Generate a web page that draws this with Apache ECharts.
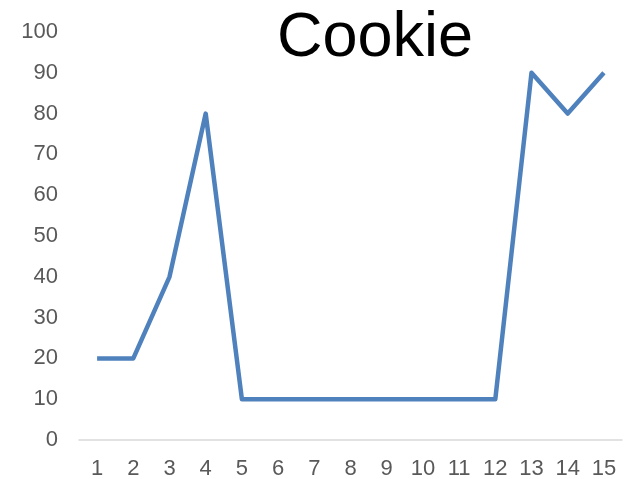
<!DOCTYPE html>
<html>
<head>
<meta charset="utf-8">
<script src="https://cdn.jsdelivr.net/npm/echarts@6/dist/echarts.min.js"></script>
<style>
  html, body { margin: 0; padding: 0; background: #fff; }
  #main { width: 624px; height: 479px; }
</style>
</head>
<body>
<div id="main"></div>
<script>
// data
var categories = ['1', '2', '3', '4', '5', '6', '7', '8', '9', '10', '11', '12', '13', '14', '15']
var cookieValues = [20, 20, 40, 80, 10, 10, 10, 10, 10, 10, 10, 10, 90, 80, 90]

var chart = echarts.init(document.getElementById('main'))
chart.setOption({
  animation: false,
  title: {
    text: 'Cookie',
    left: 370,
    top: 2,
    textAlign: 'center',
    textStyle: { fontFamily: 'Liberation Sans', fontSize: 63, fontWeight: 'normal', color: '#000' }
  },
  grid: { left: 79, right: 2, top: 32, bottom: 39, containLabel: false, outerBoundsMode: 'none' },
  xAxis: {
    type: 'category',
    data: categories,
    boundaryGap: true,
    axisLine: { lineStyle: { color: '#d9d9d9', width: 1.5 } },
    axisTick: { show: false },
    axisLabel: { color: '#595959', fontSize: 22, fontFamily: 'Liberation Sans', margin: 18 }
  },
  yAxis: {
    type: 'value',
    min: 0,
    max: 100,
    interval: 10,
    splitLine: { show: false },
    axisLine: { show: false },
    axisTick: { show: false },
    axisLabel: { color: '#595959', fontSize: 22, fontFamily: 'Liberation Sans', margin: 21 }
  },
  series: [{
    name: 'Cookie',
    type: 'line',
    data: cookieValues,
    symbol: 'none',
    lineStyle: { color: '#4f81bd', width: 4.5, join: 'round' }
  }]
})
</script>
</body>
</html>
